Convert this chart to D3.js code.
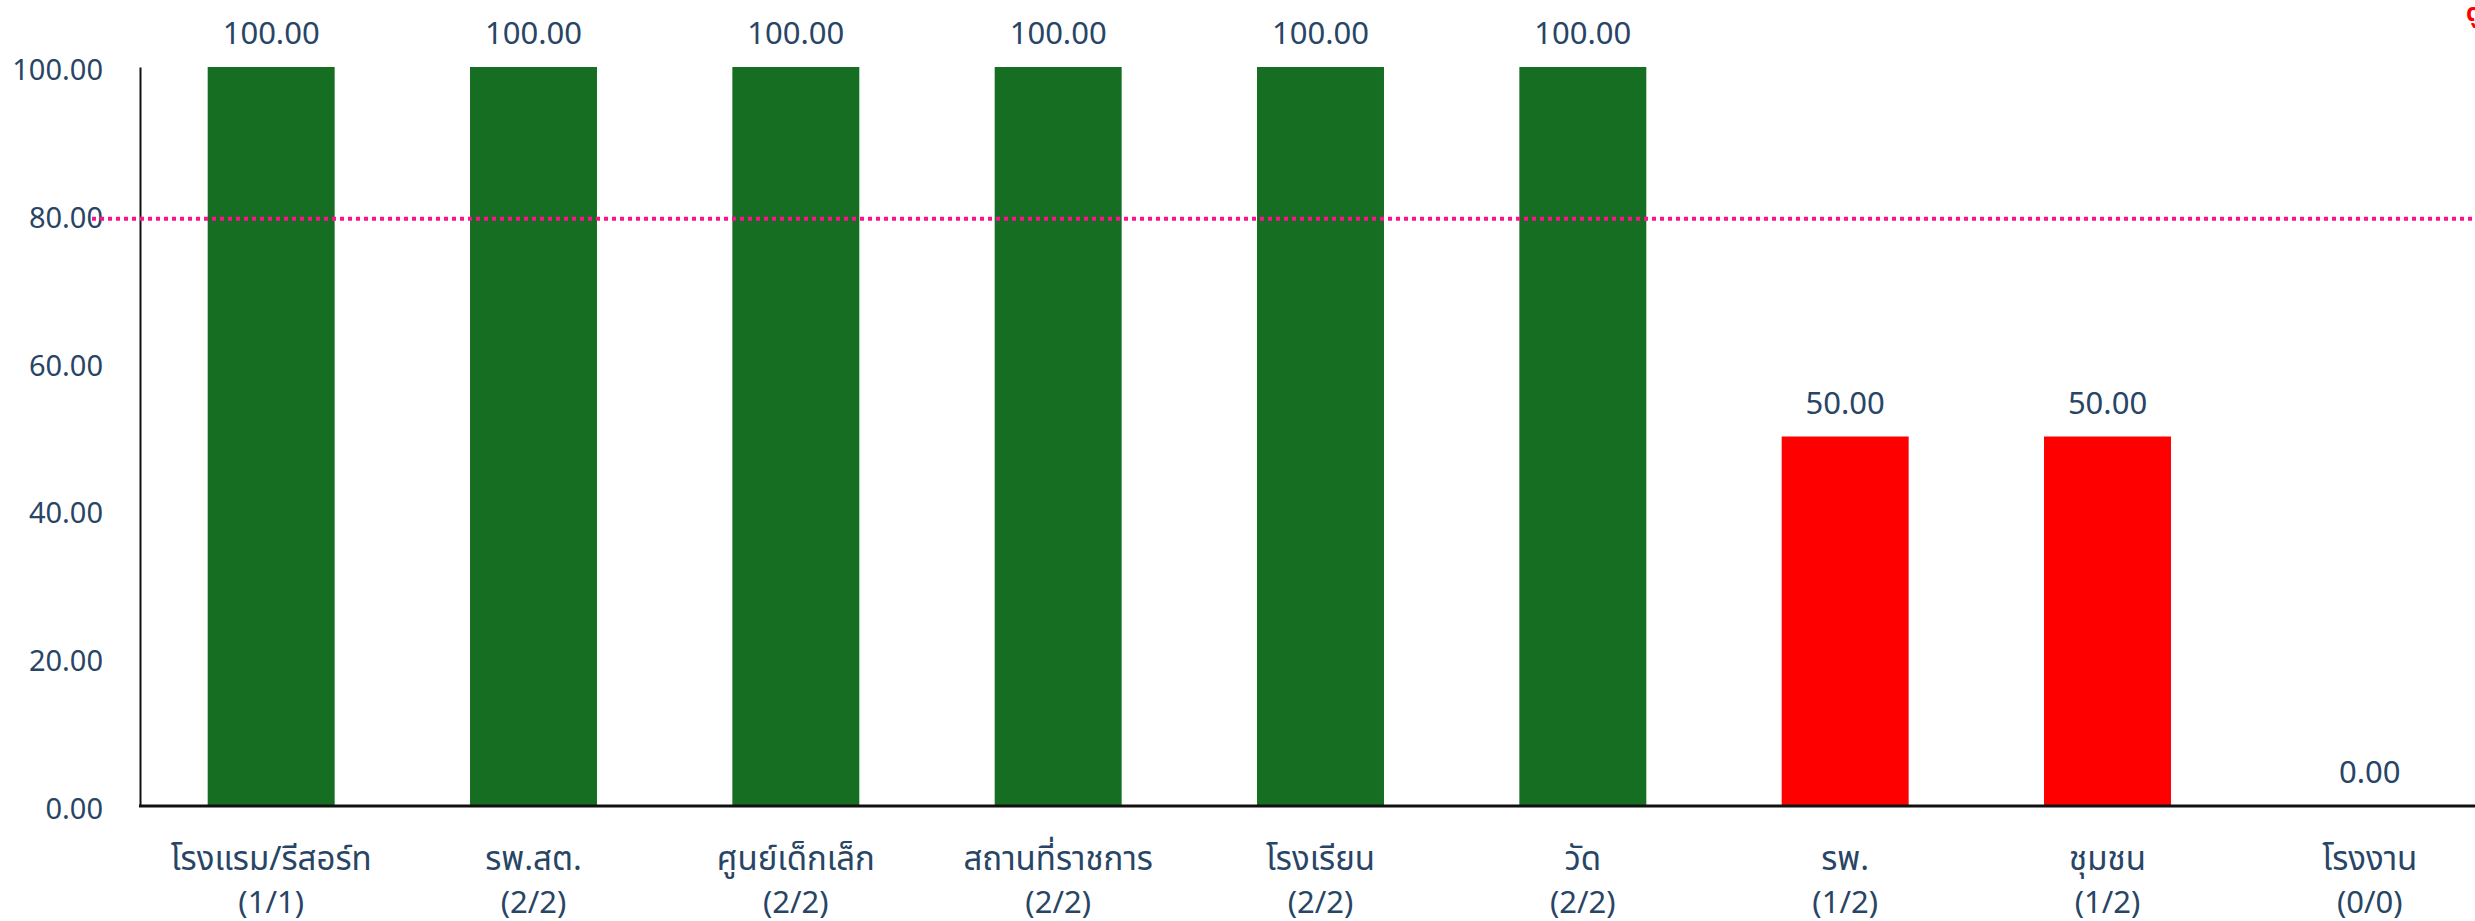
<!DOCTYPE html>
<html>
<head>
<meta charset="utf-8">
<script src="https://cdn.jsdelivr.net/npm/d3@7"></script>
<style>
  html, body { margin: 0; padding: 0; background: #ffffff; overflow: hidden; }
  svg { display: block; }
  text { font-family: "Noto Sans", "Noto Sans Thai", "Tahoma", sans-serif; fill: #284565; }
</style>
</head>
<body>
<svg id="chart" width="2475" height="921"></svg>
<script>
// Category names (Thai) and the counts shown under each
const categories = ["โรงแรม/รีสอร์ท", "รพ.สต.", "ศูนย์เด็กเล็ก", "สถานที่ราชการ", "โรงเรียน", "วัด", "รพ.", "ชุมชน", "โรงงาน"];
const counts = ["(1/1)", "(2/2)", "(2/2)", "(2/2)", "(2/2)", "(2/2)", "(1/2)", "(1/2)", "(0/0)"];
// Percentage passing per category
const values = [100, 100, 100, 100, 100, 100, 50, 50, 0];
// Target line and y-axis ticks
const target = 80;
const yTicks = [0, 20, 40, 60, 80, 100];

const W = 2475, H = 921;
const margin = { left: 140, top: 67, bottom: 115 };
const plotRight = 2501; // the last band runs past the window edge

const svg = d3.select("#chart");

const x = d3.scaleBand()
  .domain(categories)
  .range([margin.left, plotRight])
  .paddingInner(0.516)
  .paddingOuter(0.258);

const y = d3.scaleLinear()
  .domain([0, 100])
  .range([H - margin.bottom, margin.top]);

const fmt = d3.format(".2f");
const colorFor = v => v >= target ? "#166e22" : "#ff0000";
const numSize = "31px";

// Bars
svg.append("g")
  .selectAll("rect")
  .data(values)
  .join("rect")
  .attr("x", (d, i) => x(categories[i]))
  .attr("y", d => y(d))
  .attr("width", x.bandwidth())
  .attr("height", d => y(0) - y(d))
  .attr("fill", d => colorFor(d));

// Value labels above bars
svg.append("g")
  .selectAll("text")
  .data(values)
  .join("text")
  .attr("x", (d, i) => x(categories[i]) + x.bandwidth() / 2)
  .attr("y", d => y(d) - 23)
  .attr("text-anchor", "middle")
  .style("font-size", numSize)
  .text(d => fmt(d));

// Y axis
const yAxis = d3.axisLeft(y)
  .tickValues(yTicks)
  .tickFormat(fmt)
  .tickSize(0)
  .tickPadding(37);

const gy = svg.append("g")
  .attr("transform", `translate(${margin.left},0)`)
  .call(yAxis);
gy.select(".domain").attr("stroke", "#111").attr("stroke-width", 2);
gy.selectAll(".tick text")
  .attr("dy", "12.5px")
  .style("font-size", "29px")
  .style("font-family", null)
  .style("fill", "#284565");

// Target line
svg.append("line")
  .attr("x1", 92)
  .attr("x2", W)
  .attr("y1", y(target) + 4)
  .attr("y2", y(target) + 4)
  .attr("stroke", "#ff108e")
  .attr("stroke-width", 4)
  .attr("stroke-dasharray", "4,4");

// X axis baseline
svg.append("line")
  .attr("x1", margin.left - 1)
  .attr("x2", W)
  .attr("y1", y(0))
  .attr("y2", y(0))
  .attr("stroke", "#111")
  .attr("stroke-width", 3);

// Category labels (two lines)
const xl = svg.append("g")
  .selectAll("g")
  .data(categories)
  .join("g")
  .attr("transform", d => `translate(${x(d) + x.bandwidth() / 2},0)`);

xl.append("text")
  .attr("y", 870)
  .attr("text-anchor", "middle")
  .style("font-size", "33px")
  .text(d => d);

xl.append("text")
  .attr("y", 913)
  .attr("text-anchor", "middle")
  .style("font-size", numSize)
  .text((d, i) => counts[i]);

// Red link text at the top-right edge
svg.append("text")
  .attr("x", 2466)
  .attr("y", 21)
  .style("font-size", "24px")
  .style("font-weight", "bold")
  .style("fill", "#ff0000")
  .text("ดูรายละเอียด");
</script>
</body>
</html>
